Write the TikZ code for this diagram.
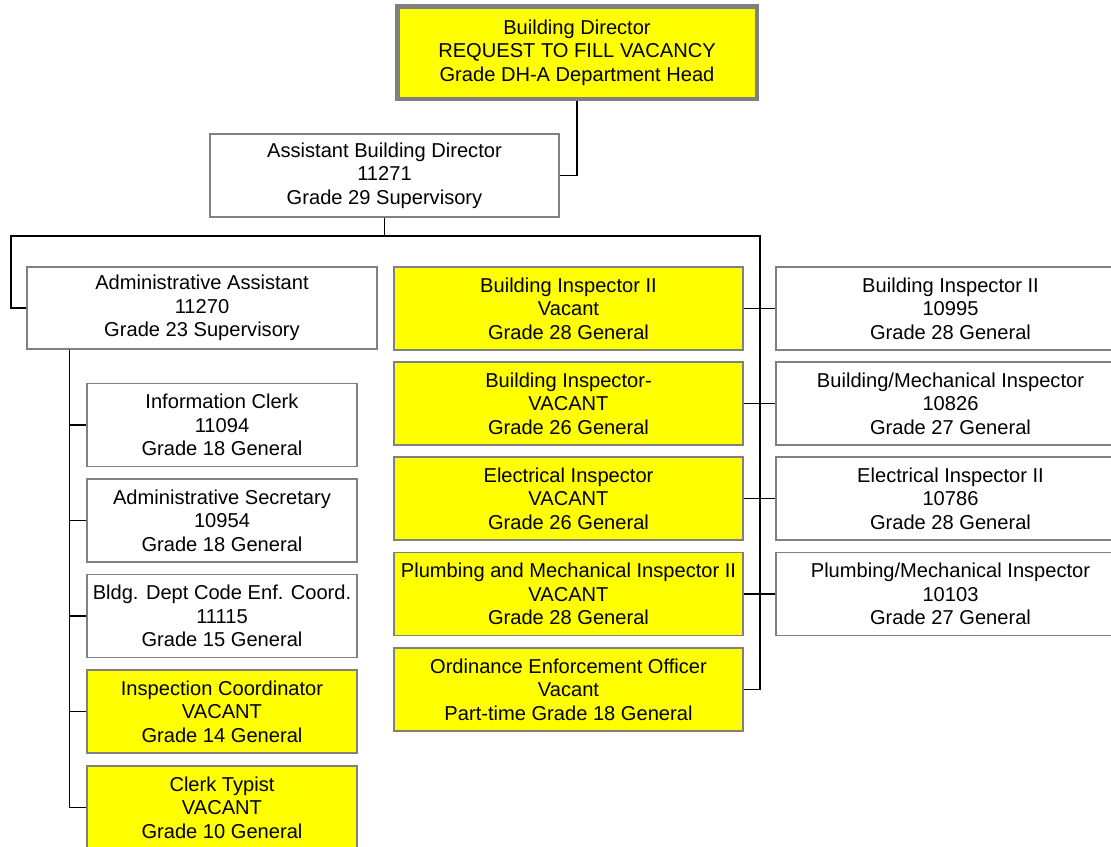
\documentclass[tikz,border=0pt]{standalone}
\usepackage{fontspec}
\setmainfont{Liberation Sans}
\definecolor{vyellow}{RGB}{255,255,0}
\definecolor{bordergray}{RGB}{128,128,128}
\begin{document}
\begin{tikzpicture}[x=1pt,y=-1pt,
  box/.style={draw=bordergray, line width=1.2pt, fill=white, inner sep=0pt, align=center,
    font=\fontsize{20.1}{23.6}\selectfont},
  vac/.style={box, fill=vyellow},
  wide/.style={minimum width=349pt, minimum height=83pt},
  small/.style={minimum width=270pt, minimum height=83pt},
  conn/.style={draw=black, line width=1.2pt}]
\useasboundingbox (0,0) rectangle (1111,846);
\clip (0,0) rectangle (1111,846);
% top
\node[vac, line width=4pt, minimum width=360pt, minimum height=93pt] (top) at (577,52.5)
  {Building Director\\REQUEST TO FILL VACANCY\\Grade DH-A Department Head};
\draw[bordergray, line width=0.9pt] ([shift={(4,4)}]top.north west) rectangle ([shift={(-4,-4)}]top.south east);
\node[box, wide] (asst) at (384.5,175.5) {Assistant Building Director\\11271\\Grade 29 Supervisory};
\node[box, minimum width=350pt, minimum height=82pt] (admin) at (202,308) {Administrative Assistant\\11270\\Grade 23 Supervisory};
% middle column
\node[vac, wide] (bi2v) at (568.5,308.5) {Building Inspector II\\Vacant\\Grade 28 General};
\node[vac, wide] (biv) at (568.5,403.5) {Building Inspector-\\VACANT\\Grade 26 General};
\node[vac, wide] (eiv) at (568.5,498.5) {Electrical Inspector\\VACANT\\Grade 26 General};
\node[vac, wide] (pmv) at (568.5,594) {Plumbing and Mechanical Inspector II\\VACANT\\Grade 28 General};
\node[vac, wide] (oeo) at (568.5,689.5) {Ordinance Enforcement Officer\\Vacant\\Part-time Grade 18 General};
% right column (runs past the right edge)
\node[box, wide] (bi2) at (950.5,308.5) {Building Inspector II\\10995\\Grade 28 General};
\node[box, wide] (bmi) at (950.5,403.5) {Building/Mechanical Inspector\\10826\\Grade 27 General};
\node[box, wide] (ei2) at (950.5,498.5) {Electrical Inspector II\\10786\\Grade 28 General};
\node[box, wide] (pmi) at (950.5,594) {Plumbing/Mechanical Inspector\\10103\\Grade 27 General};
% admin children
\node[box, small] (info) at (222,425) {Information Clerk\\11094\\Grade 18 General};
\node[box, small] (sec) at (222,520.5) {Administrative Secretary\\10954\\Grade 18 General};
\node[box, small] (code) at (222,616) {Bldg. Dept Code Enf. Coord.\\11115\\Grade 15 General};
\node[vac, small] (insp) at (222,711.5) {Inspection Coordinator\\VACANT\\Grade 14 General};
\node[vac, small] (clerk) at (222,807.5) {Clerk Typist\\VACANT\\Grade 10 General};
% connectors
\draw[conn] (top.south) |- (asst.east);
\coordinate (busL) at (11,236);
\coordinate (busR) at (760,236);
\draw[conn] (asst.south) -- (asst.south |- busL);
\draw[conn] (admin.west) -| (busL) -- (busR) |- (oeo.east);
\draw[conn] (bi2v.east) -- (bi2.west);
\draw[conn] (biv.east) -- (bmi.west);
\draw[conn] (eiv.east) -- (ei2.west);
\draw[conn] (pmv.east) -- (pmi.west);
\path (admin.south west) ++(43,0) coordinate (adm0);
\draw[conn] (adm0) |- (clerk.west);
\draw[conn] (adm0 |- info.west) -- (info.west);
\draw[conn] (adm0 |- sec.west) -- (sec.west);
\draw[conn] (adm0 |- code.west) -- (code.west);
\draw[conn] (adm0 |- insp.west) -- (insp.west);
\end{tikzpicture}
\end{document}
